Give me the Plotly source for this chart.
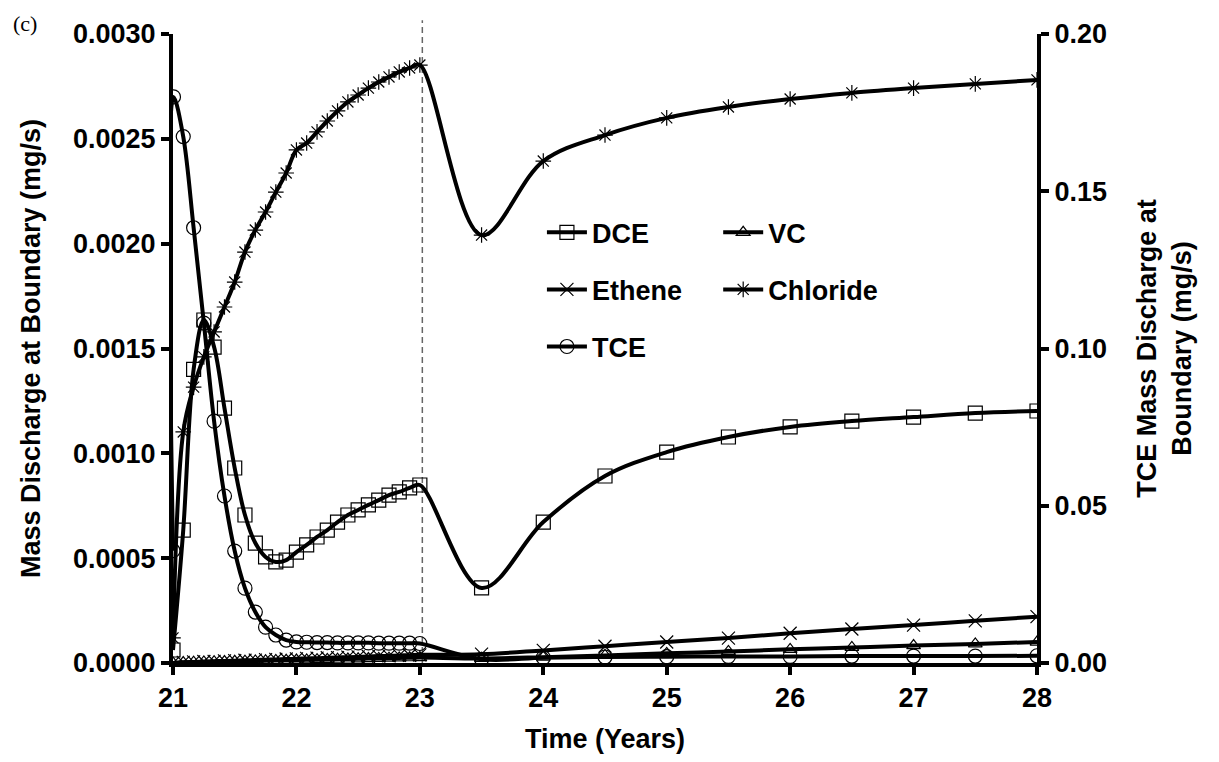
import plotly.graph_objects as go

# ---------------- data ----------------
time_years = [21.0, 21.083, 21.167, 21.25, 21.333, 21.417, 21.5, 21.583, 21.667, 21.75,
              21.833, 21.917, 22.0, 22.083, 22.167, 22.25, 22.333, 22.417, 22.5, 22.583,
              22.667, 22.75, 22.833, 22.917, 23.0,
              23.5, 24.0, 24.5, 25.0, 25.5, 26.0, 26.5, 27.0, 27.5, 28.0]

tce_time = [21.0, 21.004, 21.083, 21.167, 21.25, 21.333, 21.417, 21.5, 21.583, 21.667, 21.75,
            21.833, 21.917, 22.0, 22.083, 22.167, 22.25, 22.333, 22.417, 22.5, 22.583,
            22.667, 22.75, 22.833, 22.917, 23.0,
            23.5, 24.0, 24.5, 25.0, 25.5, 26.0, 26.5, 27.0, 27.5, 28.0]

dce = [0.000062, 0.000634, 0.00140, 0.001636, 0.001507, 0.001216, 0.00093, 0.000706, 0.000572, 0.000506,
       0.000482, 0.000491, 0.000529, 0.000563, 0.000601, 0.000634, 0.000672, 0.000706, 0.00073, 0.000754,
       0.000777, 0.000801, 0.000816, 0.000835, 0.000849,
       0.000358, 0.000672, 0.000892, 0.001006, 0.001078, 0.001126, 0.001154, 0.001173, 0.001192, 0.001202]

vc = [0.0, 0.000002, 0.000004, 0.000005, 0.000006, 0.000007, 0.000008, 0.000009, 0.00001, 0.000011,
      0.000012, 0.000013, 0.000014, 0.000015, 0.000016, 0.000017, 0.000018, 0.000019, 0.00002, 0.000021,
      0.000022, 0.000023, 0.000024, 0.000025, 0.000026,
      0.000022, 0.000028, 0.000036, 0.000046, 0.000055, 0.000065, 0.000074, 0.000083, 0.000091, 0.0001]

ethene = [0.0, 0.000003, 0.000005, 0.000007, 0.000008, 0.00001, 0.000011, 0.000013, 0.000014, 0.000016,
          0.000017, 0.000019, 0.00002, 0.000022, 0.000023, 0.000025, 0.000026, 0.000028, 0.000029, 0.000031,
          0.000033, 0.000034, 0.000036, 0.000037, 0.000039,
          0.000042, 0.00006, 0.00008, 0.0001, 0.000119, 0.000142, 0.000162, 0.000181, 0.000201, 0.000221]

chloride = [0.00012, 0.001102, 0.001316, 0.00146, 0.001579, 0.001698, 0.001817, 0.00196, 0.002065, 0.002151,
            0.002246, 0.002337, 0.002447, 0.00248, 0.002533, 0.002585, 0.002633, 0.002676, 0.002709, 0.002742,
            0.002771, 0.002795, 0.002819, 0.002838, 0.002852,
            0.002041, 0.002394, 0.002518, 0.0026, 0.002652, 0.00269, 0.002719, 0.002742, 0.002762, 0.002781]

tce = [0.0357, 0.180, 0.1674, 0.1384, 0.1081, 0.0769, 0.0531, 0.0356, 0.0238, 0.0162, 0.0114,
       0.0089, 0.0073, 0.0067, 0.0066, 0.0065, 0.0065, 0.0064, 0.0064, 0.0064, 0.0064,
       0.0063, 0.0063, 0.0063, 0.0063, 0.0062,
       0.0012, 0.0017, 0.0019, 0.0020, 0.0021, 0.0021, 0.0022, 0.0022, 0.0022, 0.0023]

switch_time = 23.02
x_ticks = [21, 22, 23, 24, 25, 26, 27, 28]

# ---------------- figure ----------------
FONT = "Liberation Sans, Arial, sans-serif"
FS = 27

def mk(name, x, y, symbol, size, legend, yaxis="y"):
    return go.Scatter(
        x=x, y=y, name=name, yaxis=yaxis, legend=legend, legendgroup=name,
        mode="lines+markers",
        line=dict(color="black", width=4, shape="spline", smoothing=1),
        marker=dict(symbol=symbol, size=size, color="black",
                    line=dict(color="black", width=1.2)),
    )

fig = go.Figure()
fig.add_trace(mk("DCE", time_years, dce, "square-open", 14, "legend"))
fig.add_trace(mk("Ethene", time_years, ethene, "x-thin-open", 13, "legend"))
fig.add_trace(mk("TCE", tce_time, tce, "circle-open", 14, "legend", yaxis="y2"))
fig.add_trace(mk("VC", time_years, vc, "triangle-up-open", 12, "legend2"))
fig.add_trace(mk("Chloride", time_years, chloride, "asterisk-open", 13, "legend2"))

axis_common = dict(
    showline=True, linecolor="black", linewidth=4,
    ticks="outside", ticklen=8, tickwidth=4, tickcolor="black",
    showgrid=False, zeroline=False, automargin=False,
    tickfont=dict(family=FONT, size=FS, color="black", weight=700),
)

legend_common = dict(xanchor="left", yanchor="top", bgcolor="rgba(0,0,0,0)",
                     font=dict(family=FONT, size=FS, color="black", weight=700),
                     itemwidth=40, tracegroupgap=19, traceorder="grouped")

fig.update_layout(
    width=1203, height=746,
    margin=dict(l=165, r=174, t=26, b=91),
    paper_bgcolor="white", plot_bgcolor="white",
    font=dict(family=FONT, size=FS, color="black"),
    xaxis=dict(range=[21, 28], tickvals=x_ticks,
               title=dict(text="Time (Years)", standoff=19,
                          font=dict(family=FONT, size=FS, color="black", weight=700)),
               **axis_common),
    yaxis=dict(range=[0, 0.003], tickformat=".4f", dtick=0.0005,
               title=dict(text="Mass Discharge at Boundary (mg/s)", standoff=26,
                          font=dict(family=FONT, size=FS, color="black", weight=700)),
               **axis_common),
    yaxis2=dict(range=[0, 0.2], tickformat=".2f", dtick=0.05, overlaying="y", side="right",
                title=dict(text="TCE Mass Discharge at<br>Boundary (mg/s)", standoff=32,
                           font=dict(family=FONT, size=FS, color="black", weight=700)),
                **axis_common),
    legend=dict(x=0.427, y=0.723, **legend_common),
    legend2=dict(x=0.631, y=0.723, **legend_common),
    showlegend=True,
)

fig.add_shape(type="line", xref="x", yref="paper", x0=switch_time, x1=switch_time, y0=0, y1=1.022,
              line=dict(color="#666666", width=1.5, dash="6px,4px"), layer="below")

fig.add_annotation(text="(c)", xref="paper", yref="paper", x=-0.188, y=1.016,
                   xanchor="left", yanchor="middle", showarrow=False,
                   font=dict(family="Liberation Serif, Times New Roman, serif", size=22, color="black"))

fig.write_html("out.html")
